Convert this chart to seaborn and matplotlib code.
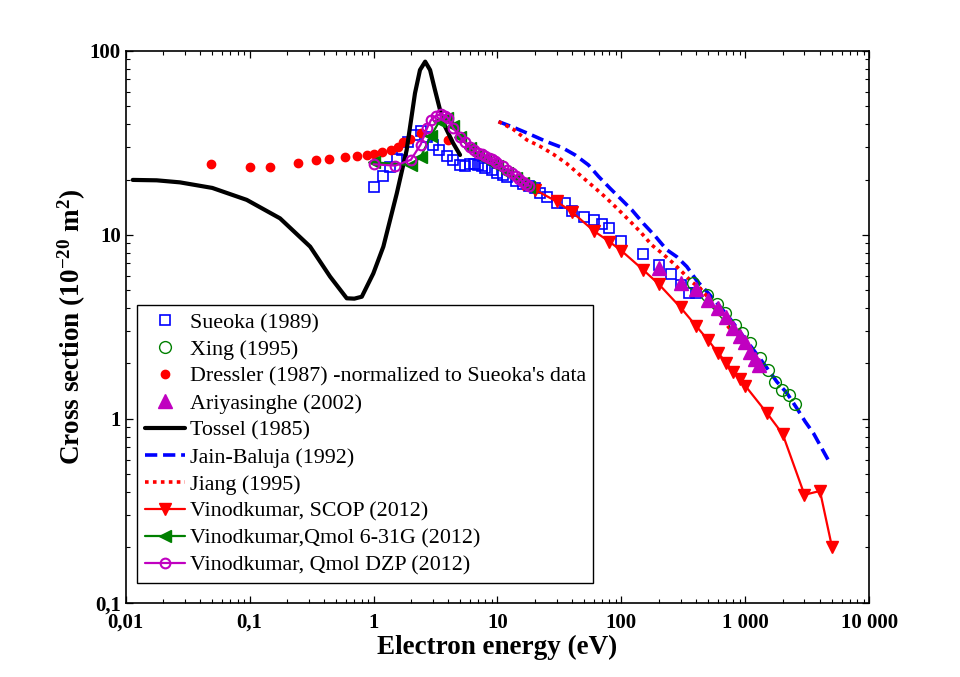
import matplotlib
matplotlib.use("Agg")
import matplotlib.pyplot as plt
import numpy as np
import pandas as pd
import seaborn as sns
from matplotlib.ticker import LogLocator, NullFormatter

# ---------------- data ----------------
sueoka_E = [1.0, 1.2, 1.35, 1.55, 1.7, 1.9, 2.15, 2.4, 2.7, 3.0, 3.4, 3.9, 4.4, 5.0,
            5.5, 6.0, 6.5, 7.0, 7.5, 8.0, 9.0, 10, 11, 12, 14, 16, 18, 20, 22, 25,
            30, 35, 40, 50, 60, 70, 80, 100, 150, 200, 250, 300, 350, 400]
sueoka_S = [18.3, 20.8, 23.5, 26.0, 29.0, 32.0, 35.0, 36.5, 34.0, 31.0, 29.0, 27.0, 25.5, 24.0,
            23.8, 24.2, 24.3, 24.0, 23.6, 23.2, 22.5, 21.8, 21.2, 20.6, 19.7, 19.0, 18.4, 18.0, 16.8, 16.0,
            14.9, 14.9, 13.4, 12.5, 12.1, 11.4, 10.9, 9.3, 7.9, 6.9, 6.1, 5.35, 4.85, 4.85]

xing_E = [381, 489, 590, 687, 828, 937, 1094, 1316, 1537, 1740, 1971, 2230, 2523]
xing_S = [5.46, 4.71, 4.2, 3.75, 3.24, 2.92, 2.58, 2.13, 1.84, 1.59, 1.44, 1.35, 1.21]

dressler_E = [0.049, 0.1, 0.146, 0.247, 0.344, 0.44, 0.589, 0.74, 0.89, 1.0, 1.17, 1.38,
              1.58, 1.74, 1.97, 2.42, 4.0]
dressler_S = [24.2, 23.5, 23.3, 24.5, 25.5, 25.8, 26.4, 26.8, 27.2, 27.4, 28.1, 28.9,
              30.2, 31.8, 33.2, 35.6, 32.9]

ariya_E = [200, 300, 400, 500, 600, 700, 800, 900, 1000, 1100, 1200, 1300]
ariya_S = [6.6, 5.45, 5.1, 4.45, 4.0, 3.57, 3.12, 2.82, 2.62, 2.31, 2.12, 1.96]

tossel_E = [0.0114, 0.0178, 0.0274, 0.05, 0.0948, 0.176, 0.308, 0.446, 0.608, 0.7, 0.804,
            0.996, 1.20, 1.54, 1.85, 2.16, 2.37, 2.61, 2.86, 3.13, 3.44, 3.78, 4.38, 4.99]
tossel_S = [19.9, 19.8, 19.3, 18.0, 15.5, 12.3, 8.63, 5.93, 4.52, 4.5, 4.61,
            6.17, 8.63, 16.8, 28.9, 58.9, 78.8, 87.5, 78.8, 61.4, 47.8, 38.8, 31.6, 27.2]

jain_E = [10.2, 13.4, 18.9, 25, 33, 42.3, 54.2, 65.3, 81.1, 100.7, 121, 151, 187, 232, 280,
          337, 406, 504, 607, 731, 879, 1059, 1276, 1537, 1796, 2163, 2605, 3043, 3550, 4140, 4840]
jain_S = [41.3, 38.5, 34.9, 32.1, 29.9, 27.2, 24.0, 20.8, 17.9, 15.5, 13.7, 11.5, 9.86, 8.3, 7.6,
          6.72, 5.63, 4.81, 4.16, 3.59, 3.04, 2.58, 2.18, 1.84, 1.59, 1.38, 1.14, 0.964, 0.833, 0.69, 0.57]

jiang_E = [10.2, 13.4, 17.3, 21.9, 28.1, 36.0, 46.1, 59.4, 73.8, 91.6, 114, 142, 176, 213,
           263, 317, 369, 431, 520, 665, 853]
jiang_S = [41.3, 37.5, 32.8, 30.4, 27.5, 24.5, 21.2, 18.3, 16.1, 14.0, 12.1, 10.4, 8.8, 7.94,
           7.0, 6.18, 5.55, 5.13, 4.43, 3.44, 2.74]

scop_E = [16, 20, 30, 40, 60, 80, 100, 150, 200, 300, 400, 500, 600, 700, 800, 900, 1000,
          1500, 2000, 3000, 4000, 5000]
scop_S = [19.0, 17.6, 15.2, 13.3, 10.5, 9.18, 8.2, 6.45, 5.4, 4.03, 3.2, 2.68, 2.29, 2.02,
          1.80, 1.64, 1.51, 1.07, 0.826, 0.386, 0.405, 0.201]

q631_E = [1.0, 2.0, 2.4, 2.9, 3.4, 3.9, 4.4, 5.0, 6.0, 7.0, 8.0, 9.0, 10, 12, 14, 16, 18]
q631_S = [24.8, 24.0, 26.5, 34.5, 41.5, 43.0, 39.0, 34.0, 29.5, 27.2, 25.8, 24.6, 23.6,
          21.8, 20.3, 19.2, 18.3]

dzp_E = [1.0, 1.5, 2.0, 2.4, 2.7, 2.9, 3.2, 3.5, 3.8, 4.0, 4.4, 5.0, 5.5, 6.0, 6.5, 7.0,
         7.5, 8.0, 8.5, 9.0, 9.5, 10, 11, 12, 13, 14, 15, 16, 17, 18]
dzp_S = [24.2, 23.8, 25.6, 31.0, 38.0, 42.0, 44.5, 45.2, 44.5, 43.0, 38.0, 34.2, 31.8, 30.0,
         28.9, 28.0, 27.4, 26.8, 26.2, 25.7, 25.2, 24.7, 23.6, 22.6, 21.7, 20.9, 20.1, 19.4, 18.9, 18.5]

x_ticks = [0.01, 0.1, 1, 10, 100, 1000, 10000]
x_ticklabels = ["0,01", "0,1", "1", "10", "100", "1 000", "10 000"]
y_ticks = [0.1, 1, 10, 100]
y_ticklabels = ["0,1", "1", "10", "100"]

labels_order = ["Sueoka (1989)", "Xing (1995)",
                "Dressler (1987) -normalized to Sueoka's data", "Ariyasinghe (2002)",
                "Tossel (1985)", "Jain-Baluja (1992)", "Jiang (1995)",
                "Vinodkumar, SCOP (2012)", "Vinodkumar,Qmol 6-31G (2012)",
                "Vinodkumar, Qmol DZP (2012)"]

# ---------------- style ----------------
sns.set_theme(style="ticks", rc={"axes.edgecolor": "black", "text.color": "black",
                                 "axes.labelcolor": "black", "xtick.color": "black",
                                 "ytick.color": "black"})
plt.rcParams["font.family"] = ["Liberation Serif", "DejaVu Serif"]
plt.rcParams["mathtext.fontset"] = "custom"
plt.rcParams["mathtext.rm"] = "Liberation Serif:bold"
plt.rcParams["mathtext.it"] = "Liberation Serif:bold"
plt.rcParams["mathtext.bf"] = "Liberation Serif:bold"

fig = plt.figure(figsize=(9.6, 6.77), dpi=100)
ax = fig.add_axes([0.1309, 0.1098, 0.7746, 0.8149])
ax.set_xscale("log")
ax.set_yscale("log")

GREEN = "#008000"
MAG = "#C000C0"


def draw(E, S, label, **kw):
    df = pd.DataFrame({"E": E, "S": S})
    sns.lineplot(data=df, x="E", y="S", ax=ax, estimator=None, sort=False,
                 label=label, legend=True, **kw)


draw(sueoka_E, sueoka_S, labels_order[0], color="blue", linestyle="none", marker="s",
     markersize=7.8, markerfacecolor="none", markeredgecolor="blue", markeredgewidth=1.2)
draw(dressler_E, dressler_S, labels_order[2], color="red", linestyle="none", marker="o",
     markersize=6, markerfacecolor="red", markeredgecolor="red", markeredgewidth=1)
draw(tossel_E, tossel_S, labels_order[4], color="black", linewidth=3)
draw(jain_E, jain_S, labels_order[5], color="blue", linewidth=2.6, linestyle=(0, (3.4, 1.6)))
draw(jiang_E, jiang_S, labels_order[6], color="red", linewidth=2.6, linestyle=(0, (1.0, 1.2)))
draw(xing_E, xing_S, labels_order[1], color=GREEN, linestyle="none", marker="o",
     markersize=8.5, markerfacecolor="none", markeredgecolor=GREEN, markeredgewidth=1)
draw(ariya_E, ariya_S, labels_order[3], color=MAG, linestyle="none", marker="^",
     markersize=10, markerfacecolor=MAG, markeredgecolor=MAG, markeredgewidth=1)
draw(scop_E, scop_S, labels_order[7], color="red", linewidth=1.6, marker="v",
     markersize=9, markerfacecolor="red", markeredgecolor="red", markeredgewidth=1)
draw(q631_E, q631_S, labels_order[8], color=GREEN, linewidth=1.6, marker="<",
     markersize=8, markerfacecolor=GREEN, markeredgecolor=GREEN, markeredgewidth=1)
draw(dzp_E, dzp_S, labels_order[9], color=MAG, linewidth=1.6, marker="o",
     markersize=7, markerfacecolor="none", markeredgecolor=MAG, markeredgewidth=1.5)

ax.set_xlim(0.01, 10000)
ax.set_ylim(0.1, 100)

ax.set_xticks(x_ticks, labels=x_ticklabels, fontsize=15, fontweight="bold")
ax.set_yticks(y_ticks, labels=y_ticklabels, fontsize=15, fontweight="bold")
ax.xaxis.set_minor_locator(LogLocator(base=10, subs=np.arange(2, 10), numticks=30))
ax.yaxis.set_minor_locator(LogLocator(base=10, subs=np.arange(2, 10), numticks=30))
ax.xaxis.set_minor_formatter(NullFormatter())
ax.yaxis.set_minor_formatter(NullFormatter())
ax.tick_params(which="both", direction="in", top=True, right=True, colors="black")
ax.tick_params(which="major", length=5.3, width=0.9)
ax.tick_params(which="minor", length=3.0, width=0.8)
ax.tick_params(axis="x", which="major", pad=7.5)
ax.tick_params(axis="y", which="major", pad=3.5)
for sp in ax.spines.values():
    sp.set_linewidth(1.2)
    sp.set_color("black")
    sp.set_visible(True)

ax.set_xlabel("Electron energy (eV)", fontsize=19.5, fontweight="bold", labelpad=1)
ax.set_ylabel(r"Cross section (10$^{-20}$ m$^{2}$)", fontsize=19.5, fontweight="bold",
              labelpad=1)

handles, labels = ax.get_legend_handles_labels()
hmap = dict(zip(labels, handles))
leg = ax.legend([hmap[l] for l in labels_order], labels_order, loc="upper left",
                bbox_to_anchor=(137 / 960, 1 - 305 / 677), bbox_transform=fig.transFigure,
                frameon=True, fancybox=False, edgecolor="black", framealpha=1,
                borderaxespad=0, borderpad=0.35, handlelength=1.85, handletextpad=0.2,
                labelspacing=0.3, prop={"family": "Liberation Serif", "size": 15.8})
leg.get_frame().set_linewidth(1.0)

fig.savefig("out.png", dpi=100)
